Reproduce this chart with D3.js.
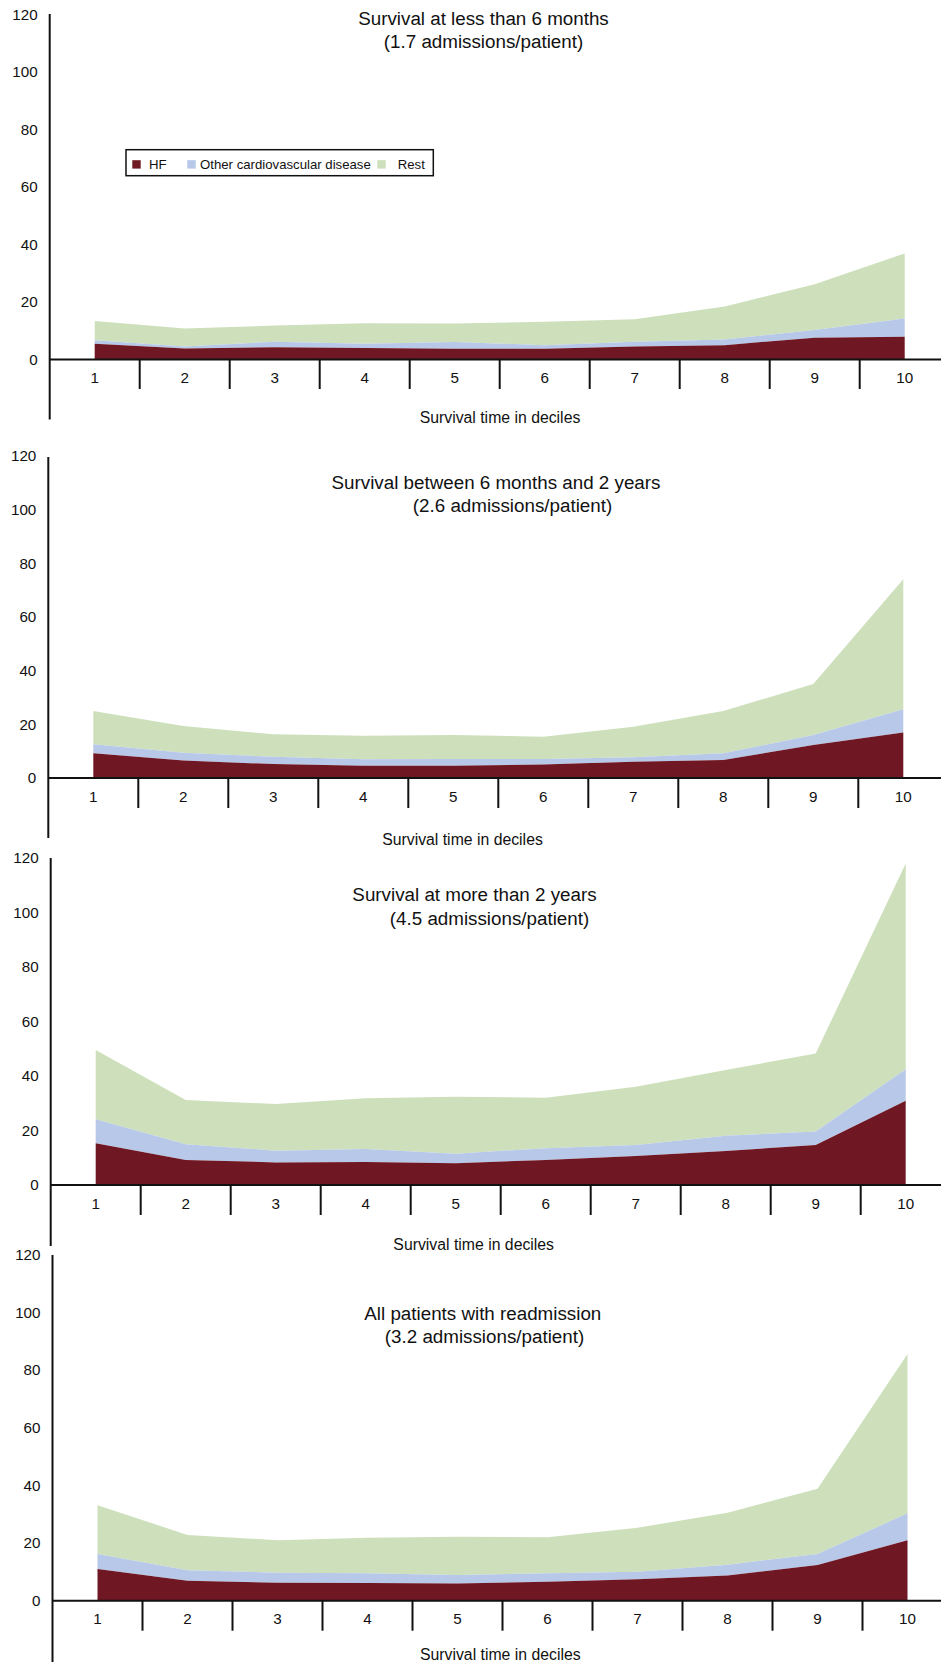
<!DOCTYPE html>
<html>
<head>
<meta charset="utf-8">
<script src="https://cdn.jsdelivr.net/npm/d3@7"></script>
<style>
  html, body { margin: 0; padding: 0; background: #fff; }
  svg { display: block; font-family: "Liberation Sans", Arial, Helvetica, sans-serif; }
</style>
</head>
<body>
<svg id="chart" width="941" height="1667"></svg>
<script>
// Survival deciles on the x axis
const deciles = ["1", "2", "3", "4", "5", "6", "7", "8", "9", "10"];
const yTicks = [0, 20, 40, 60, 80, 100, 120];
const seriesKeys = ["HF", "Other cardiovascular disease", "Rest"];
const seriesColors = ["#6f1824", "#b7c8e8", "#cde0bb"];
const xAxisTitle = "Survival time in deciles";

// Survival at less than 6 months
const hfLess6m    = [5.5, 3.8, 4.3, 4.0, 3.7, 3.7, 4.5, 5.0, 7.6, 7.9];
const otherLess6m = [1.2, 0.7, 1.9, 1.5, 2.4, 1.3, 1.7, 2.0, 2.7, 6.4];
const restLess6m  = [6.7, 6.3, 5.6, 7.1, 6.4, 8.1, 7.8, 11.4, 15.9, 22.6];

// Survival between 6 months and 2 years
const hf6mTo2y    = [9.2, 6.5, 5.2, 4.6, 4.6, 5.0, 6.1, 6.7, 12.3, 17.0];
const other6mTo2y = [3.4, 2.9, 2.7, 2.4, 2.5, 2.1, 1.6, 2.5, 3.7, 8.6];
const rest6mTo2y  = [12.4, 10.0, 8.4, 8.7, 8.9, 8.3, 11.4, 15.8, 19.0, 48.5];

// Survival at more than 2 years
const hfMore2y    = [15.3, 9.2, 8.3, 8.4, 8.0, 9.2, 10.6, 12.5, 14.7, 30.9];
const otherMore2y = [8.8, 5.8, 4.3, 4.8, 3.5, 4.3, 4.1, 5.6, 4.9, 11.6];
const restMore2y  = [25.4, 16.2, 17.1, 18.6, 20.9, 18.5, 21.4, 24.1, 28.7, 75.5];

// All patients with readmission
const hfAll    = [11.0, 6.9, 6.2, 6.1, 6.0, 6.6, 7.4, 8.7, 12.4, 21.0];
const otherAll = [5.2, 3.7, 3.5, 3.4, 2.9, 2.9, 2.6, 3.8, 3.8, 9.3];
const restAll  = [16.9, 12.2, 11.3, 12.3, 13.3, 12.5, 15.3, 18.0, 22.6, 55.2];

const panelTitles = [
  ["Survival at less than 6 months", "(1.7 admissions/patient)"],
  ["Survival between 6 months and 2 years", "(2.6 admissions/patient)"],
  ["Survival at more than 2 years", "(4.5 admissions/patient)"],
  ["All patients with readmission", "(3.2 admissions/patient)"]
];
const panelSeries = [
  [hfLess6m, otherLess6m, restLess6m],
  [hf6mTo2y, other6mTo2y, rest6mTo2y],
  [hfMore2y, otherMore2y, restMore2y],
  [hfAll, otherAll, restAll]
];

// Placement of each panel on the page
const panelLayout = [
  { ax: 49.7, y0: 359.5, y120: 14.5, top: 14, bottom: 419.5, tickLen: 29.5,
    xLabelX: 500, xLabelY: 417, t1: [483.5, 18.3], t2: [483.5, 41], legend: true },
  { ax: 48.3, y0: 778, y120: 456, top: 457, bottom: 838, tickLen: 30,
    xLabelX: 462.5, xLabelY: 839.3, t1: [496, 482.3], t2: [512.5, 505] },
  { ax: 50.7, y0: 1185, y120: 858, top: 858, bottom: 1246, tickLen: 30,
    xLabelX: 473.7, xLabelY: 1244, t1: [474.5, 894], t2: [489.5, 918.3] },
  { ax: 52.5, y0: 1600.7, y120: 1254.6, top: 1255, bottom: 1662, tickLen: 30,
    xLabelX: 500.3, xLabelY: 1654, t1: [482.8, 1313.3], t2: [484.5, 1336.7] }
];

const svg = d3.select("#chart");
const ink = "#111";

panelLayout.forEach((L, p) => {
  const g = svg.append("g");

  const x = d3.scaleBand().domain(deciles).range([L.ax, L.ax + 900]).padding(0);
  const y = d3.scaleLinear().domain([0, 120]).range([L.y0, L.y120]);
  const cx = d => x(d) + x.bandwidth() / 2;

  // Stack the three admission causes per decile
  const rows = deciles.map((d, i) => {
    const r = { decile: d };
    seriesKeys.forEach((k, s) => { r[k] = panelSeries[p][s][i]; });
    return r;
  });
  const stacked = d3.stack().keys(seriesKeys)(rows);

  const area = d3.area()
    .x(d => cx(d.data.decile))
    .y0(d => y(d[0]))
    .y1(d => y(d[1]));

  g.selectAll("path.layer")
    .data(stacked.slice().reverse())
    .join("path")
    .attr("class", "layer")
    .attr("d", area)
    .attr("fill", d => seriesColors[seriesKeys.indexOf(d.key)]);

  // Y axis: labels only, with a long vertical rule
  const yAxis = g.append("g")
    .attr("transform", `translate(${L.ax},0)`)
    .call(d3.axisLeft(y).tickValues(yTicks).tickSize(0).tickPadding(12));
  yAxis.select(".domain").remove();
  yAxis.selectAll("text").attr("font-size", 15.2).attr("fill", ink)
    .attr("font-family", "Liberation Sans, Arial, sans-serif");

  g.append("line")
    .attr("x1", L.ax).attr("x2", L.ax)
    .attr("y1", L.top).attr("y2", L.bottom)
    .attr("stroke", ink).attr("stroke-width", 2);

  // X axis: baseline, category labels and separators between deciles
  const xAxis = g.append("g")
    .attr("transform", `translate(0,${L.y0})`)
    .call(d3.axisBottom(x).tickSize(0).tickPadding(13));
  xAxis.select(".domain").remove();
  xAxis.selectAll("text").attr("font-size", 15.2).attr("fill", ink)
    .attr("font-family", "Liberation Sans, Arial, sans-serif");

  g.append("line")
    .attr("x1", L.ax).attr("x2", L.ax + 900)
    .attr("y1", L.y0).attr("y2", L.y0)
    .attr("stroke", ink).attr("stroke-width", 2);

  g.selectAll("line.sep")
    .data(deciles.slice(1))
    .join("line")
    .attr("class", "sep")
    .attr("x1", d => x(d)).attr("x2", d => x(d))
    .attr("y1", L.y0).attr("y2", L.y0 + L.tickLen)
    .attr("stroke", ink).attr("stroke-width", 2);

  g.append("text")
    .attr("x", L.xLabelX).attr("y", L.xLabelY)
    .attr("text-anchor", "middle").attr("dominant-baseline", "central")
    .attr("font-size", 15.8).attr("fill", ink)
    .text(xAxisTitle);

  // Two-line panel title
  [L.t1, L.t2].forEach((pos, k) => {
    g.append("text")
      .attr("x", pos[0]).attr("y", pos[1])
      .attr("text-anchor", "middle").attr("dominant-baseline", "central")
      .attr("font-size", 18.8).attr("fill", ink)
      .text(panelTitles[p][k]);
  });

  if (L.legend) {
    const lg = g.append("g");
    lg.append("rect")
      .attr("x", 126).attr("y", 149.7).attr("width", 307.3).attr("height", 26)
      .attr("fill", "#fff").attr("stroke", ink).attr("stroke-width", 1.5);
    const swatchX = [132.3, 187.3, 377.3];
    const textX = [149, 200, 397.7];
    seriesKeys.forEach((k, i) => {
      lg.append("rect")
        .attr("x", swatchX[i]).attr("y", 160.2)
        .attr("width", 8.4).attr("height", 8.4)
        .attr("fill", seriesColors[i]);
      lg.append("text")
        .attr("x", textX[i]).attr("y", 164.4)
        .attr("dominant-baseline", "central")
        .attr("font-size", 13.2).attr("fill", ink)
        .text(k);
    });
  }
});
</script>
</body>
</html>
